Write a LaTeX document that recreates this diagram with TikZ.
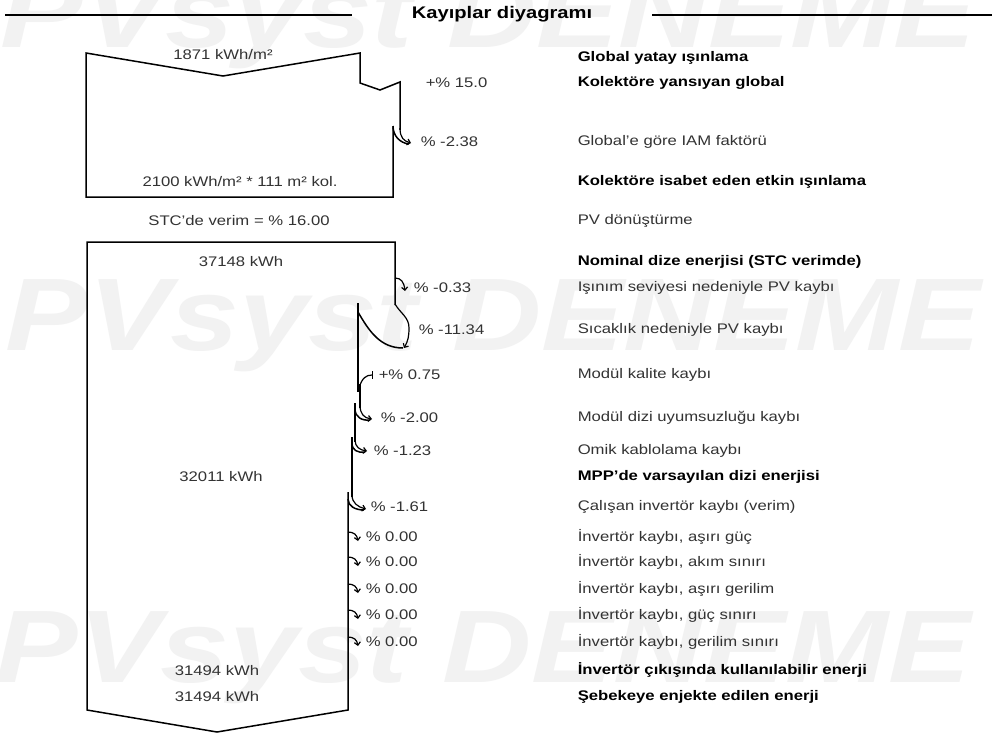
\documentclass[tikz,border=0pt]{standalone}
\usepackage{fontspec}
\setmainfont{Liberation Sans}[FakeStretch=1.2]
\usetikzlibrary{arrows.meta}

\begin{document}
\begin{tikzpicture}[
    x=1pt, y=-1pt,
    line width=1.5pt, line join=miter,
    lbl/.style={font=\fontsize{13.9}{16}\selectfont, text=black!80, inner sep=0pt},
    blbl/.style={font=\fontsize{13.9}{16}\selectfont\bfseries, text=black, inner sep=0pt},
    desc/.style={lbl, anchor=west},
    bdesc/.style={blbl, anchor=west},
    pct/.style={lbl, anchor=west},
    loss/.style={-{Straight Barb[length=3pt,width=6pt]}, line width=1.2pt},
    gain/.style={-{Bar[width=8pt]}, line width=1.2pt},
    wmark/.style={font=\fontsize{103}{110}\selectfont\bfseries\itshape, text=black!5, anchor=base west, inner sep=0pt}
]
\useasboundingbox (0,0) rectangle (992,736);
\fill[white] (0,0) rectangle (992,736);

% Watermark
\node[wmark] (wm1) at (0,47) {PVsyst DENEME};
\node[wmark] (wm2) at (5,350) {PVsyst DENEME};
\node[wmark] (wm3) at (-5,682) {PVsyst DENEME};

% Header
\node[font=\fontsize{16.8}{18}\selectfont\bfseries, inner sep=0pt] (title) at (502,14) {Kayıplar diyagramı};
\draw (5,15) -- (352,15);
\draw (652,15) -- (992,15);

% Irradiation box
\draw (400,130) -- (400,82) -- (380,90) -- (360,83) -- (360,53) -- (223,76) -- (86,53) -- (86,197) -- (393,197) -- (393,126);
\draw[loss] (400,128) .. controls (400,138) and (404,141) .. (411,143);
\draw (393,126) .. controls (393,136) and (400,143) .. (409,144);

\node[lbl] (ghi) at (223,55) {1871 kWh/m²};
\node[lbl] (eff) at (240,182) {2100 kWh/m² * 111 m² kol.};
\node[pct] (p1) at (425,83) {+\% 15.0};
\node[pct] (p2) at (420,142) {\% -2.38};
\node[lbl] (stc) at (239,221) {STC'de verim = \% 16.00};

% Energy box
\draw (395,305) -- (395,242) -- (87,242) -- (87,710) -- (217,732) -- (348,710) -- (348,492);
\draw[loss] (395,278) .. controls (401,278) and (404,282) .. (405,291);
\draw[loss] (395,304) to[out=-60,in=90] (409,328) to[out=-90,in=60] (404,348);
\draw (358,312) to[out=-60,in=180] (403,348);
\draw (358,303) -- (358,392);
\draw[gain] (359,388) .. controls (362,378) and (366,375) .. (373,375);
\draw (360,384) -- (360,408);
\draw[loss] (360,405) .. controls (360,414) and (364,418) .. (372,419);
\draw (355,409) .. controls (355,417) and (362,421) .. (370,420);
\draw (355,403) -- (355,442);
\draw[loss] (355,440) .. controls (355,447) and (360,450) .. (367,451);
\draw (352,443) .. controls (352,450) and (357,453) .. (365,452);
\draw (352,437) -- (352,497);
\draw[loss] (352,495) .. controls (352,503) and (358,507) .. (366,509);
\draw (348,499) .. controls (348,506) and (355,510) .. (364,510);
\foreach \y in {537,562,589,615,642}
  \draw[loss] (348,\y-5) .. controls (354,\y-5) and (357,\y-2) .. (358,\y+4);

\node[lbl] (e1) at (241,262) {37148 kWh};
\node[lbl] (e2) at (221,477) {32011 kWh};
\node[lbl] (e3) at (217,671) {31494 kWh};
\node[lbl] (e4) at (217,697) {31494 kWh};

\node[pct] (p3) at (413,288) {\% -0.33};
\node[pct] (p4) at (418,330) {\% -11.34};
\node[pct] (p5) at (378,375) {+\% 0.75};
\node[pct] (p6) at (380,418) {\% -2.00};
\node[pct] (p7) at (373,451) {\% -1.23};
\node[pct] (p8) at (370,507) {\% -1.61};
\foreach \y [count=\i] in {537,562,589,615,642}
  \node[pct] (z\i) at (365,\y) {\% 0.00};

% Descriptions
\node[bdesc] (d1) at (577,58) {Global yatay ışınlama};
\node[bdesc] (d2) at (577,83) {Kolektöre yansıyan global};
\node[desc] (d3) at (577,142) {Global'e göre IAM faktörü};
\node[bdesc] (d4) at (577,182) {Kolektöre isabet eden etkin ışınlama};
\node[desc] (d5) at (577,221) {PV dönüştürme};
\node[bdesc] (d6) at (577,262) {Nominal dize enerjisi (STC verimde)};
\node[desc] (d7) at (577,288) {Işınım seviyesi nedeniyle PV kaybı};
\node[desc] (d8) at (577,330) {Sıcaklık nedeniyle PV kaybı};
\node[desc] (d9) at (577,375) {Modül kalite kaybı};
\node[desc] (d10) at (577,418) {Modül dizi uyumsuzluğu kaybı};
\node[desc] (d11) at (577,451) {Omik kablolama kaybı};
\node[bdesc] (d12) at (577,477) {MPP'de varsayılan dizi enerjisi};
\node[desc] (d13) at (577,507) {Çalışan invertör kaybı (verim)};
\node[desc] (d14) at (577,537) {İnvertör kaybı, aşırı güç};
\node[desc] (d15) at (577,562) {İnvertör kaybı, akım sınırı};
\node[desc] (d16) at (577,589) {İnvertör kaybı, aşırı gerilim};
\node[desc] (d17) at (577,615) {İnvertör kaybı, güç sınırı};
\node[desc] (d18) at (577,642) {İnvertör kaybı, gerilim sınırı};
\node[bdesc] (d19) at (577,670) {İnvertör çıkışında kullanılabilir enerji};
\node[bdesc] (d20) at (577,697) {Şebekeye enjekte edilen enerji};

\end{tikzpicture}
\end{document}
